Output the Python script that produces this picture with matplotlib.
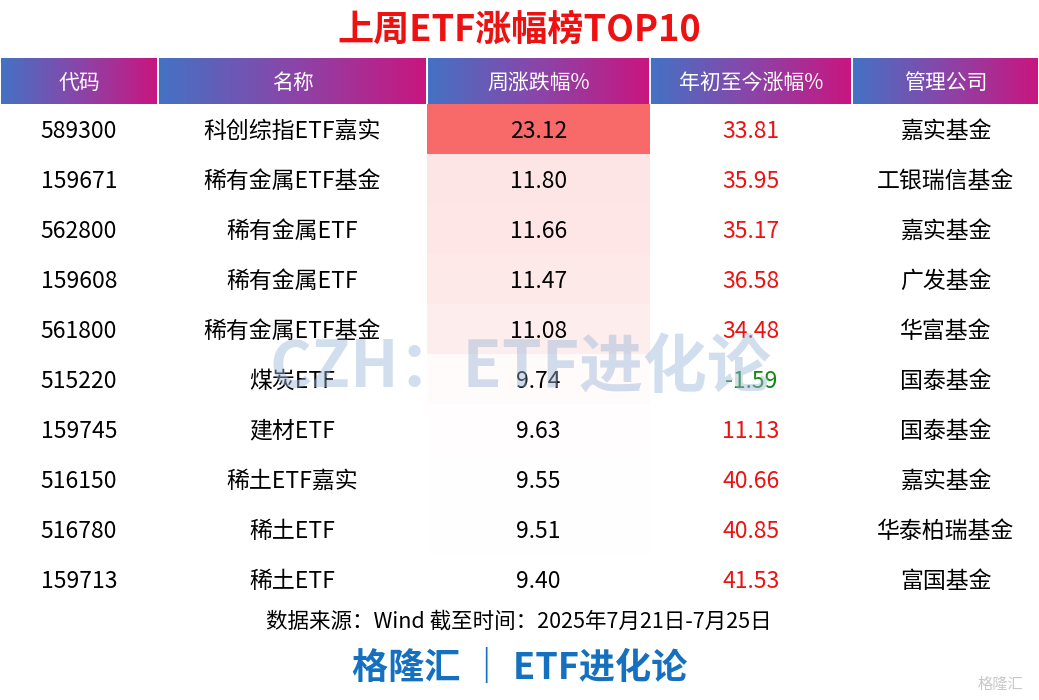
import matplotlib
matplotlib.use("Agg")
import matplotlib.pyplot as plt
import numpy as np
from matplotlib.colors import LinearSegmentedColormap

plt.rcParams['font.family'] = ['Noto Sans CJK SC', 'DejaVu Sans']

headers = ["代码", "名称", "周涨跌幅%", "年初至今涨幅%", "管理公司"]
codes = ["589300", "159671", "562800", "159608", "561800", "515220", "159745", "516150", "516780", "159713"]
names = ["科创综指ETF嘉实", "稀有金属ETF基金", "稀有金属ETF", "稀有金属ETF", "稀有金属ETF基金",
         "煤炭ETF", "建材ETF", "稀土ETF嘉实", "稀土ETF", "稀土ETF"]
weekly = [23.12, 11.80, 11.66, 11.47, 11.08, 9.74, 9.63, 9.55, 9.51, 9.40]
ytd = [33.81, 35.95, 35.17, 36.58, 34.48, -1.59, 11.13, 40.66, 40.85, 41.53]
companies = ["嘉实基金", "工银瑞信基金", "嘉实基金", "广发基金", "华富基金",
             "国泰基金", "国泰基金", "嘉实基金", "华泰柏瑞基金", "富国基金"]

W, H = 1039, 700
fig = plt.figure(figsize=(W/100, H/100), dpi=100)
ax = fig.add_axes([0, 0, 1, 1])
ax.set_xlim(0, W); ax.set_ylim(H, 0); ax.axis('off')

cols = [0, 158, 427, 650, 852, 1039]
hy0, hy1 = 58, 104
rowh = 50

ax.text(W/2, 30, "上周ETF涨幅榜TOP10", color="#ee1111", fontsize=26, fontweight='bold', ha='center', va='center')

grad = LinearSegmentedColormap.from_list("g", ["#4472c4", "#8a45a8", "#c8167f"])
g = np.linspace(0, 1, 256).reshape(1, -1)
for i in range(5):
    ax.imshow(g, cmap=grad, extent=[cols[i]+1, cols[i+1]-1, hy1, hy0], aspect='auto', zorder=1)
    ax.text((cols[i]+cols[i+1])/2, (hy0+hy1)/2 + 2, headers[i], color='white', fontsize=15,
            fontweight='medium', ha='center', va='center', zorder=3)

heat = LinearSegmentedColormap.from_list("h", ["#ffffff", "#f86a6a"])
vmin, vmax = min(weekly), max(weekly)
for r in range(10):
    y0 = hy1 + r*rowh
    yc = y0 + rowh/2 + 2
    f = (weekly[r]-vmin)/(vmax-vmin)
    ax.add_patch(plt.Rectangle((cols[2], y0), cols[3]-cols[2], rowh, color=heat(f), zorder=1, lw=0))
    kw = dict(fontsize=16.5, fontweight='medium', ha='center', va='center', zorder=3)
    ax.text((cols[0]+cols[1])/2, yc, codes[r], **kw)
    ax.text((cols[1]+cols[2])/2, yc, names[r], **kw)
    ax.text((cols[2]+cols[3])/2, yc, f"{weekly[r]:.2f}", **kw)
    ax.text((cols[3]+cols[4])/2, yc, f"{ytd[r]:.2f}",
            color="#ee1111" if ytd[r] >= 0 else "#118811", **kw)
    ax.text((cols[4]+cols[5])/2, yc, companies[r], **kw)

ax.text(520, 368, "CZH：ETF进化论", fontsize=46, fontweight='bold', color="#9bb6d8", alpha=0.45,
        ha='center', va='center', zorder=4)

ax.text(519, 622, "数据来源：Wind 截至时间：2025年7月21日-7月25日", fontsize=15.5, fontweight='medium',
        ha='center', va='center')
ax.text(520, 668, "格隆汇 ｜ ETF进化论", fontsize=26, fontweight='bold', color="#1570c0", ha='center', va='center')
ax.text(1000, 684, "格隆汇", fontsize=11, color="#c8c8c8", ha='center', va='center')

fig.savefig("out.png", dpi=100, facecolor='white')
